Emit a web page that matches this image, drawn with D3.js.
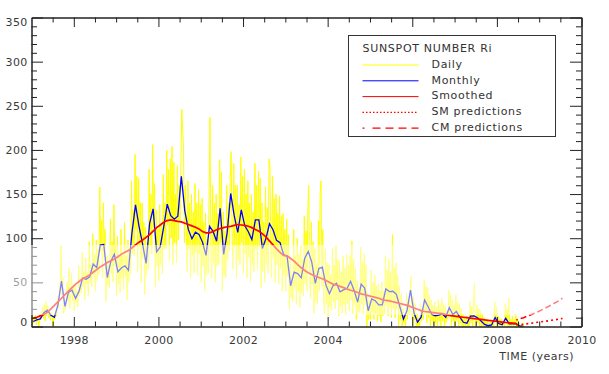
<!DOCTYPE html>
<html><head><meta charset="utf-8">
<script src="https://cdn.jsdelivr.net/npm/d3@7"></script>
<style>
html,body{margin:0;padding:0;background:#fff;}
svg{display:block;font-family:"DejaVu Sans",sans-serif;}
</style></head><body>
<svg id="chart" width="609" height="374"></svg>
<script>
// ---------------- DATA ----------------
const startYear = 1997;

// Monthly mean sunspot number, Jan 1997 .. Aug 2008
const monthly = [
  5.7, 7.6, 8.7, 15.5, 18.5, 12.7, 10.4, 24.4, 51.3, 22.8, 39.0, 41.2,
  31.9, 40.3, 54.8, 53.4, 56.3, 70.7, 66.6, 92.2, 92.9, 55.5, 74.0, 81.9,
  62.0, 66.3, 68.8, 63.7, 106.4, 137.7, 113.5, 93.7, 71.5, 116.7, 133.2, 84.6,
  90.1, 112.9, 138.5, 125.5, 121.6, 124.9, 170.1, 130.5, 109.7, 99.4, 106.8, 104.4,
  95.6, 80.6, 113.5, 107.7, 96.6, 134.0, 81.8, 106.4, 150.7, 125.5, 106.5, 132.2,
  114.1, 107.4, 98.4, 120.7, 120.8, 88.3, 99.6, 116.4, 109.6, 97.5, 95.0, 81.6,
  79.5, 46.2, 61.5, 60.0, 55.2, 77.4, 85.0, 72.7, 48.8, 65.6, 67.2, 47.0,
  37.2, 46.0, 48.9, 39.3, 41.5, 43.2, 51.1, 40.9, 27.7, 48.0, 43.5, 17.9,
  31.3, 29.2, 24.5, 24.4, 42.6, 39.6, 39.9, 36.4, 22.1, 8.5, 18.0, 41.2,
  15.3, 4.9, 10.6, 30.2, 22.3, 13.9, 12.2, 12.9, 14.4, 10.5, 21.4, 13.6,
  16.9, 10.6, 4.8, 3.7, 11.7, 12.0, 10.0, 6.2, 2.4, 0.9, 1.7, 10.1,
  3.4, 2.1, 9.3, 2.9, 2.9, 3.1, 0.5, 0.5
];

// 13-month smoothed sunspot number, Jan 1997 .. Jun 2008
const smoothed = [
  9.5, 10.5, 12, 13.5, 16, 20, 24, 28, 32, 36, 40, 44,
  48, 51, 54, 56, 58.5, 61.5, 64.5, 67.5, 70, 72.5, 74.5, 76.5,
  79, 82, 84, 86, 89, 92.5, 95.5, 98, 101, 104, 108, 112,
  115, 118, 120, 120.8, 120, 119, 118.5, 117, 115.5, 114, 112.5, 110.5,
  107.5, 106, 106, 107.5, 109.5, 111, 112, 113, 113.5, 114.5, 115.5, 115,
  114.5, 113.5, 112, 110, 108, 105, 101.5, 97, 92.5, 88, 84, 80.5,
  80, 77, 74, 70, 66.5, 63.5, 61, 59, 57, 55.5, 54, 52,
  50, 48, 47, 45.5, 44, 42.5, 41, 40, 38.5, 37, 36, 35,
  34, 33, 32, 30.5, 29.5, 29, 28, 27, 26, 25, 24, 22.5,
  21, 19.5, 18, 17, 16.5, 16, 15.5, 15, 14.5, 13.5, 12.5, 12,
  11.5, 11, 10.5, 10, 9.5, 9, 8.5, 8, 7.5, 7, 6.5, 6,
  5.5, 5, 4.5, 4, 3.8, 3.6
];

// Daily sunspot number, sampled 4 times per month, Jan 1997 .. Aug 2008
const daily = [
  0,11,4,9, 13,2,10,6, 0,14,8,12, 22,9,25,6, 28,12,24,10, 18,7,16,11, 0,15,8,19, 12,34,20,31, 48,92,35,55, 14,30,19,27, 50,28,66,20, 35,60,29,46,
  18,48,27,40, 22,69,35,44, 38,84,45,62, 30,78,48,61, 34,96,50,70, 45,105,58,82, 40,98,52,88, 60,158,85,120, 55,140,78,110, 28,80,46,70, 44,122,60,96, 50,138,70,92,
  35,102,48,80, 38,110,55,84, 42,118,56,80, 30,98,50,88, 60,165,82,132, 80,195,110,170, 62,168,90,140, 50,140,78,118, 36,112,58,96, 65,178,92,150, 82,206,112,162, 45,132,68,110,
  52,138,70,115, 60,172,88,140, 88,200,115,178, 75,190,100,204, 70,186,95,150, 72,182,98,160, 120,180,246,222, 203,95,160,110, 62,165,88,140, 55,150,80,130, 60,162,84,140, 58,155,82,138,
  50,145,68,118, 40,128,58,100, 60,150,237,80, 55,160,72,140, 50,150,68,128, 70,189,95,175, 40,130,58,108, 55,160,75,140, 85,170,198,110, 65,185,90,160, 55,160,75,138, 70,192,95,170,
  60,178,82,150, 55,165,78,140, 50,150,70,130, 62,185,88,160, 64,176,90,168, 44,140,62,118, 50,158,70,135, 60,190,184,85, 55,170,78,145, 50,150,70,128, 48,148,66,125, 40,128,58,110,
  40,122,56,104, 20,78,32,60, 28,110,42,80, 25,100,40,82, 22,92,38,76, 35,125,48,108, 40,130,160,60, 32,118,48,96, 15,88,28,70, 25,120,40,150, 165,45,110,30, 14,88,25,72,
  12,70,22,58, 18,88,28,70, 20,92,30,76, 12,74,22,62, 15,80,25,66, 14,82,26,70, 18,80,30,97, 14,76,24,66, 8,52,16,44, 16,90,26,74, 14,82,24,70, 0,38,8,30,
  8,64,16,50, 8,58,14,46, 6,48,12,40, 5,50,12,40, 14,80,24,64, 12,76,22,62, 10,104,20,66, 10,72,20,58, 0,46,8,36, 0,20,4,14, 0,38,8,30, 14,40,57,22,
  0,34,8,26, 0,14,0,10, 0,26,6,20, 8,53,14,46, 4,44,10,36, 0,30,6,24, 0,28,4,22, 0,30,6,24, 0,32,6,26, 0,24,4,18, 8,41,12,36, 0,30,6,24,
  0,36,6,28, 0,26,4,20, 0,14,0,10, 0,12,0,8, 0,28,4,22, 0,26,49,6, 0,24,4,20, 0,18,0,14, 0,10,0,6, 0,6,0,4, 0,8,0,6, 0,28,6,22,
  0,12,0,8, 0,8,0,6, 0,26,6,20, 0,32,0,8, 0,12,0,8, 0,14,0,8, 0,4,0,2, 0,4,0,0
];

// Predictions
const predYears = [2008.46, 2008.63, 2008.79, 2008.96, 2009.13, 2009.29, 2009.46, 2009.55];
const smPred = [1.8, 2.6, 3.6, 4.8, 5.8, 7.0, 8.3, 9.2];
const cmPred = [7.4, 10, 13, 16.5, 20.5, 24.5, 29, 32];

// Axes ticks / labels
const xMajorTicks = [1998, 2000, 2002, 2004, 2006, 2008, 2010];
const yMajorTicks = [0, 50, 100, 150, 200, 250, 300, 350];
const xAxisTitle = "TIME (years)";
const legendTitle = "SUNSPOT NUMBER Ri";
const legendLabels = ["Daily", "Monthly", "Smoothed", "SM predictions", "CM predictions"];

// ---------------- CHART ----------------
const svg = d3.select("#chart");
const x = d3.scaleLinear().domain([1997, 2010]).range([31.5, 581.5]);
const y = d3.scaleLinear().domain([0, 350]).range([326.5, 17.5]);

const tMonth = i => startYear + (i + 0.5) / 12;
const tDay = i => startYear + (i + 0.5) / 48;

const COL = { daily: "#ffff00", monthly: "#0000ff", smoothed: "#ff0000" };

const data = svg.append("g");
data.append("path").datum(daily)
  .attr("d", d3.line().x((d, i) => x(tDay(i))).y(d => y(d)))
  .attr("fill", "none").attr("stroke", COL.daily).attr("stroke-width", 1);
data.append("path").datum(monthly)
  .attr("d", d3.line().x((d, i) => x(tMonth(i))).y(d => y(d)))
  .attr("fill", "none").attr("stroke", COL.monthly).attr("stroke-width", 1.3);
data.append("path").datum(smoothed)
  .attr("d", d3.line().x((d, i) => x(tMonth(i))).y(d => y(d)))
  .attr("fill", "none").attr("stroke", COL.smoothed).attr("stroke-width", 1.7);
data.append("path").datum(smPred)
  .attr("d", d3.line().x((d, i) => x(predYears[i])).y(d => y(d)))
  .attr("fill", "none").attr("stroke", COL.smoothed).attr("stroke-width", 1.6)
  .attr("stroke-dasharray", "2,3");
data.append("path").datum(cmPred)
  .attr("d", d3.line().x((d, i) => x(predYears[i])).y(d => y(d)))
  .attr("fill", "none").attr("stroke", COL.smoothed).attr("stroke-width", 1.6)
  .attr("stroke-dasharray", "1.5,3,6,3,6,3,6,3,6,3,6,3,6,3,6,3");

// axes
const xMinor = d3.range(1997.5, 2010, 0.5).filter(v => xMajorTicks.indexOf(v) < 0);
const yMinor = d3.range(10, 350, 10).filter(v => v % 50 !== 0);

function styleAxis(sel) {
  sel.select(".domain").attr("stroke", "#222").attr("stroke-width", 1);
  sel.selectAll(".tick line").attr("stroke", "#222").attr("stroke-width", 1);
  sel.selectAll("text").attr("fill", "#3a3a3a")
    .style("font-family", '"DejaVu Sans", sans-serif').style("font-size", "11px")
    .style("letter-spacing", "0.3px");
}
const axes = svg.append("g");
// bottom
axes.append("g").attr("transform", `translate(0,${y(0)})`)
  .call(d3.axisBottom(x).tickValues(xMinor).tickSizeInner(-5).tickSizeOuter(0).tickFormat(""))
  .call(styleAxis);
axes.append("g").attr("transform", `translate(0,${y(0)})`)
  .call(d3.axisBottom(x).tickValues(xMajorTicks).tickSizeInner(-9.5).tickSizeOuter(0)
    .tickPadding(10).tickFormat(d3.format("d")))
  .call(styleAxis);
// top
axes.append("g").attr("transform", `translate(0,${y(350)})`)
  .call(d3.axisTop(x).tickValues(xMinor).tickSizeInner(-5).tickSizeOuter(0).tickFormat(""))
  .call(styleAxis);
axes.append("g").attr("transform", `translate(0,${y(350)})`)
  .call(d3.axisTop(x).tickValues(xMajorTicks).tickSizeInner(-9.5).tickSizeOuter(0).tickFormat(""))
  .call(styleAxis);
// left
axes.append("g").attr("transform", `translate(${x(1997)},0)`)
  .call(d3.axisLeft(y).tickValues(yMinor).tickSizeInner(-5.5).tickSizeOuter(0).tickFormat(""))
  .call(styleAxis);
const yl = axes.append("g").attr("transform", `translate(${x(1997)},0)`)
  .call(d3.axisLeft(y).tickValues(yMajorTicks).tickSizeInner(-11.5).tickSizeOuter(0)
    .tickPadding(4).tickFormat(d3.format("d")))
  .call(styleAxis);
yl.selectAll(".tick text").attr("dy", d => d === 0 ? "-0.05em" : (d === 350 ? "0.72em" : "0.32em"));
// right
axes.append("g").attr("transform", `translate(${x(2010)},0)`)
  .call(d3.axisRight(y).tickValues(yMinor).tickSizeInner(-5.5).tickSizeOuter(0).tickFormat(""))
  .call(styleAxis);
axes.append("g").attr("transform", `translate(${x(2010)},0)`)
  .call(d3.axisRight(y).tickValues(yMajorTicks).tickSizeInner(-11.5).tickSizeOuter(0).tickFormat(""))
  .call(styleAxis);

svg.append("text").attr("x", 574).attr("y", 360).attr("text-anchor", "end")
  .attr("fill", "#3a3a3a").style("font-size", "11px").style("letter-spacing", "0.5px")
  .text(xAxisTitle);

// faded band seen in the reference image
svg.append("rect").attr("x", 0).attr("y", 245).attr("width", 570).attr("height", 70)
  .attr("fill", "#fff").attr("opacity", 0.5);

// legend
const lg = svg.append("g");
lg.append("rect").attr("x", 348.5).attr("y", 35.5).attr("width", 207).attr("height", 101)
  .attr("fill", "#fff").attr("stroke", "#333").attr("stroke-width", 1);
lg.append("text").attr("x", 362.5).attr("y", 51.7).attr("fill", "#333")
  .style("font-size", "11px").style("letter-spacing", "0.7px").text(legendTitle);
const legendStyles = [
  { c: COL.daily, w: 1, dash: null },
  { c: COL.monthly, w: 1, dash: null },
  { c: COL.smoothed, w: 1, dash: null },
  { c: COL.smoothed, w: 1.3, dash: "1.5,2" },
  { c: COL.smoothed, w: 1.3, dash: "2,8,8,5,8,5,8,5,8,5" }
];
legendLabels.forEach((lab, i) => {
  const ly = 65 + i * 15.8;
  const ln = lg.append("line").attr("x1", 362.5).attr("x2", 418.5).attr("y1", ly).attr("y2", ly)
    .attr("stroke", legendStyles[i].c).attr("stroke-width", legendStyles[i].w);
  if (legendStyles[i].dash) ln.attr("stroke-dasharray", legendStyles[i].dash);
  lg.append("text").attr("x", 431.5).attr("y", ly + 2.7).attr("fill", "#333")
    .style("font-size", "11px").style("letter-spacing", "0.7px").text(lab);
});
</script>
</body></html>
